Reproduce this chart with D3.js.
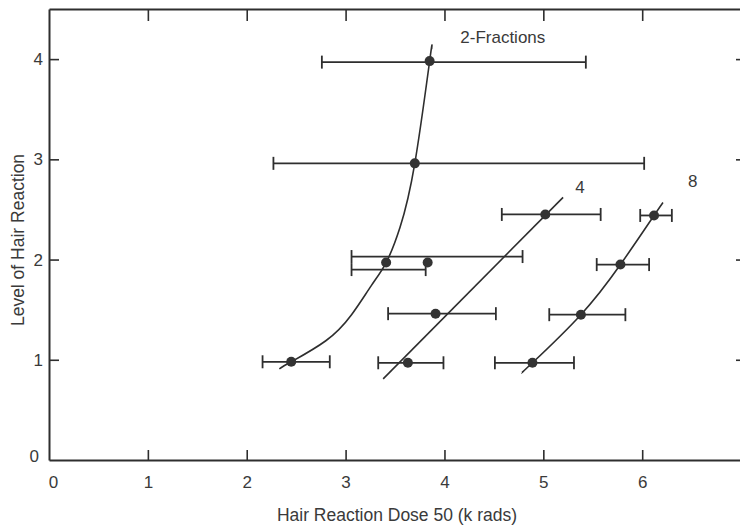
<!DOCTYPE html>
<html>
<head>
<meta charset="utf-8">
<script src="https://cdn.jsdelivr.net/npm/d3@7"></script>
<style>
  html, body { margin: 0; padding: 0; background: #ffffff; }
  svg { display: block; }
  text { font-family: "Liberation Sans", Arial, sans-serif; fill: #3a3a3a; }
</style>
</head>
<body>
<svg id="chart" width="740" height="528"></svg>
<script>
// ---------- data ----------
const xTickValues = [0, 1, 2, 3, 4, 5, 6];
const yTickValues = [0, 1, 2, 3, 4];
const xTitle = "Hair Reaction Dose 50 (k rads)";
const yTitle = "Level of Hair Reaction";

// 2-Fractions
const frac2Level    = [0.98, 1.97, 2.96, 3.98];
const frac2Dose     = [2.45, 3.41, 3.70, 3.85];
const frac2Lo       = [2.16, 3.06, 2.27, 2.76];
const frac2Hi       = [2.84, 4.79, 6.02, 5.43];
const frac2BarLevel = [0.98, 2.03, 2.96, 3.97];

// 4 fractions
const frac4Level    = [0.97, 1.46, 1.97, 2.45];
const frac4Dose     = [3.63, 3.91, 3.83, 5.02];
const frac4Lo       = [3.33, 3.43, 3.06, 4.58];
const frac4Hi       = [3.99, 4.52, 3.81, 5.58];
const frac4BarLevel = [0.97, 1.46, 1.90, 2.45];

// 8 fractions
const frac8Level    = [0.97, 1.45, 1.95, 2.44];
const frac8Dose     = [4.89, 5.38, 5.78, 6.12];
const frac8Lo       = [4.51, 5.06, 5.54, 5.98];
const frac8Hi       = [5.31, 5.83, 6.07, 6.30];
const frac8BarLevel = [0.97, 1.45, 1.95, 2.44];

// fitted curves (dose, level)
const curve2Dose  = [2.33, 2.45, 2.80, 3.06, 3.26, 3.41, 3.55, 3.70, 3.85, 3.87];
const curve2Level = [0.91, 0.98, 1.19, 1.45, 1.74, 1.97, 2.32, 2.96, 3.98, 4.10];
const curve4Dose  = [3.38, 5.20];
const curve4Level = [0.81, 2.62];
const curve8Dose  = [4.78, 4.89, 5.38, 5.78, 6.12, 6.21];
const curve8Level = [0.87, 0.97, 1.45, 1.95, 2.44, 2.57];

// series labels
const seriesLabels = ["2-Fractions", "4", "8"];
const labelDose    = [4.59, 5.37, 6.51];
const labelLevel   = [4.22, 2.72, 2.78];

// ---------- chart ----------
const ink = "#2e2e2e";
const svg = d3.select("#chart");
const x = d3.scaleLinear().domain([0, 7.05]).range([49, 746]);
const y = d3.scaleLinear().domain([0, 4.5]).range([460, 9]);

const fontSize = 17;

// bottom axis
const gB = svg.append("g").attr("transform", `translate(0,${y(0)})`)
  .call(d3.axisBottom(x).tickValues(xTickValues).tickSize(-10).tickSizeOuter(0).tickPadding(16).tickFormat(d3.format("d")));
// left axis
const gL = svg.append("g").attr("transform", `translate(${x(0)},0)`)
  .call(d3.axisLeft(y).tickValues(yTickValues).tickSize(-10).tickSizeOuter(0).tickPadding(6).tickFormat(d3.format("d")));
// top axis (frame)
const gT = svg.append("g").attr("transform", `translate(0,${y(4.5)})`)
  .call(d3.axisTop(x).tickValues(xTickValues.slice(1)).tickSize(-12).tickSizeOuter(0).tickFormat(""));
// right axis (frame)
const gR = svg.append("g").attr("transform", `translate(${x(7.05)},0)`)
  .call(d3.axisRight(y).tickValues(yTickValues.slice(1)).tickSize(-10).tickSizeOuter(0).tickFormat(""));

[gB, gL, gT, gR].forEach(g => {
  g.selectAll("path.domain").attr("stroke", ink).attr("stroke-width", 2);
  g.selectAll(".tick line").attr("stroke", ink).attr("stroke-width", 1.6);
  g.selectAll(".tick text").attr("font-size", fontSize).attr("font-family", "Liberation Sans, Arial, sans-serif").attr("fill", "#3a3a3a");
});
gB.selectAll(".tick").filter(d => d === 0).select("line").remove();
gB.selectAll(".tick").filter(d => d === 0).select("text").attr("dx", 4);
gL.selectAll(".tick").filter(d => d === 0).select("line").remove();
gL.selectAll(".tick").filter(d => d === 0).select("text").attr("dx", -4).attr("dy", "0.1em");

// axis titles
svg.append("text")
  .attr("x", 397).attr("y", 521)
  .attr("text-anchor", "middle")
  .attr("font-size", fontSize + 0.5)
  .text(xTitle);
svg.append("text")
  .attr("transform", "translate(24,240) rotate(-90)")
  .attr("text-anchor", "middle")
  .attr("font-size", fontSize + 0.5)
  .text(yTitle);

// curves
const curveLine = d3.line().x(d => x(d[0])).y(d => y(d[1])).curve(d3.curveNatural);
const curves = [
  d3.zip(curve2Dose, curve2Level),
  d3.zip(curve4Dose, curve4Level),
  d3.zip(curve8Dose, curve8Level)
];
svg.append("g").selectAll("path").data(curves).join("path")
  .attr("d", curveLine)
  .attr("fill", "none")
  .attr("stroke", ink)
  .attr("stroke-width", 1.6);

// error bars & points
const series = [
  { level: frac2Level, dose: frac2Dose, lo: frac2Lo, hi: frac2Hi, bar: frac2BarLevel },
  { level: frac4Level, dose: frac4Dose, lo: frac4Lo, hi: frac4Hi, bar: frac4BarLevel },
  { level: frac8Level, dose: frac8Dose, lo: frac8Lo, hi: frac8Hi, bar: frac8BarLevel }
];
const capH = 6.5;
series.forEach(s => {
  const rows = s.level.map((lv, i) => ({ lv, d: s.dose[i], lo: s.lo[i], hi: s.hi[i], b: s.bar[i] }));
  const g = svg.append("g").attr("stroke", ink).attr("stroke-width", 1.8);
  g.selectAll("line.bar").data(rows).join("line").attr("class", "bar")
    .attr("x1", r => x(r.lo)).attr("x2", r => x(r.hi))
    .attr("y1", r => y(r.b)).attr("y2", r => y(r.b));
  g.selectAll("line.capl").data(rows).join("line").attr("class", "capl")
    .attr("x1", r => x(r.lo)).attr("x2", r => x(r.lo))
    .attr("y1", r => y(r.b) - capH).attr("y2", r => y(r.b) + capH);
  g.selectAll("line.caph").data(rows).join("line").attr("class", "caph")
    .attr("x1", r => x(r.hi)).attr("x2", r => x(r.hi))
    .attr("y1", r => y(r.b) - capH).attr("y2", r => y(r.b) + capH);
  svg.append("g").selectAll("circle").data(rows).join("circle")
    .attr("cx", r => x(r.d)).attr("cy", r => y(r.lv)).attr("r", 5)
    .attr("fill", "#333");
});

// series labels
svg.append("g").selectAll("text").data(seriesLabels).join("text")
  .attr("x", (d, i) => x(labelDose[i]))
  .attr("y", (d, i) => y(labelLevel[i]))
  .attr("text-anchor", "middle")
  .attr("dominant-baseline", "central")
  .attr("font-size", fontSize)
  .text(d => d);
</script>
</body>
</html>
